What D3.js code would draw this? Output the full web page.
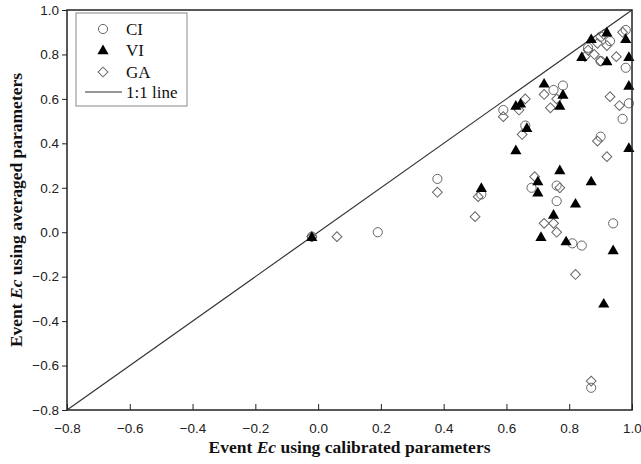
<!DOCTYPE html>
<html>
<head>
<meta charset="utf-8">
<script src="https://cdn.jsdelivr.net/npm/d3@7"></script>
<style>
  body { margin: 0; background: #fff; }
  svg { display: block; }
</style>
</head>
<body>
<script>
// Ec with calibrated (x) vs averaged (y) parameters
const ciPoints = [
  [-0.02, -0.02], [0.19, 0.00], [0.38, 0.24], [0.59, 0.55], [0.66, 0.48],
  [0.68, 0.20], [0.75, 0.64], [0.78, 0.66], [0.76, 0.21], [0.76, 0.14],
  [0.81, -0.05], [0.84, -0.06], [0.87, -0.70], [0.90, 0.43], [0.94, 0.04],
  [0.97, 0.51], [0.99, 0.58], [0.98, 0.74], [0.98, 0.91], [0.93, 0.86],
  [0.90, 0.88], [0.86, 0.83], [0.90, 0.77], [0.52, 0.17]
];
const viPoints = [
  [-0.02, -0.02], [0.52, 0.20], [0.63, 0.37], [0.63, 0.57], [0.645, 0.58],
  [0.665, 0.47], [0.70, 0.23], [0.70, 0.18], [0.71, -0.02], [0.72, 0.67],
  [0.75, 0.08], [0.77, 0.28], [0.77, 0.57], [0.78, 0.62], [0.79, -0.04],
  [0.82, 0.13], [0.84, 0.79], [0.87, 0.23], [0.87, 0.87], [0.91, -0.32],
  [0.92, 0.90], [0.92, 0.77], [0.94, -0.08], [0.98, 0.87], [0.99, 0.79],
  [0.99, 0.66], [0.99, 0.38]
];
const gaPoints = [
  [-0.02, -0.02], [0.06, -0.02], [0.38, 0.18], [0.50, 0.07], [0.51, 0.16],
  [0.59, 0.52], [0.64, 0.55], [0.66, 0.60], [0.65, 0.44], [0.69, 0.25],
  [0.72, 0.04], [0.75, 0.04], [0.76, 0.00], [0.77, 0.20], [0.72, 0.62],
  [0.74, 0.56], [0.76, 0.60], [0.82, -0.19], [0.87, -0.67], [0.89, 0.41],
  [0.92, 0.34], [0.93, 0.61], [0.96, 0.57], [0.85, 0.79], [0.86, 0.82],
  [0.88, 0.80], [0.89, 0.85], [0.90, 0.77], [0.91, 0.89], [0.92, 0.84],
  [0.95, 0.79], [0.97, 0.90]
];
const tickValues = [-0.8, -0.6, -0.4, -0.2, 0.0, 0.2, 0.4, 0.6, 0.8, 1.0];
const legendItems = ["CI", "VI", "GA", "1:1 line"];

const width = 641, height = 464;
const margin = { top: 10, right: 9, bottom: 54, left: 67 };

const svg = d3.select("body").append("svg")
    .attr("width", width)
    .attr("height", height);

const x = d3.scaleLinear().domain([-0.8, 1.0]).range([margin.left, width - margin.right]);
const y = d3.scaleLinear().domain([-0.8, 1.0]).range([height - margin.bottom, margin.top]);

// axes
svg.append("g")
    .attr("transform", `translate(0,${y(-0.8)})`)
    .call(d3.axisBottom(x).tickValues(tickValues).tickSize(-6).tickPadding(13).tickFormat(d3.format(".1f")))
    .call(g => g.select(".domain").remove())
    .call(g => g.selectAll("text").attr("font-family", "Liberation Sans, Arial, sans-serif").attr("font-size", 13.5).attr("fill", "#222"))
    .call(g => g.selectAll(".tick line").attr("stroke", "#222"));

svg.append("g")
    .attr("transform", `translate(${x(-0.8)},0)`)
    .call(d3.axisLeft(y).tickValues(tickValues).tickSize(5).tickPadding(3).tickFormat(d3.format(".1f")))
    .call(g => g.select(".domain").remove())
    .call(g => g.selectAll("text").attr("font-family", "Liberation Sans, Arial, sans-serif").attr("font-size", 13.5).attr("fill", "#222"))
    .call(g => g.selectAll(".tick line").attr("stroke", "#222"));

// 1:1 line
svg.append("line")
    .attr("x1", x(-0.8)).attr("y1", y(-0.8))
    .attr("x2", x(1.0)).attr("y2", y(1.0))
    .attr("stroke", "#333").attr("stroke-width", 1.2);

const circleSym = d3.symbol().type(d3.symbolCircle).size(66);
const triSym = d3.symbol().type(d3.symbolTriangle).size(54);
const diaSym = d3.symbol().type(d3.symbolSquare).size(48);

svg.append("g").selectAll("path")
    .data(gaPoints).join("path")
    .attr("d", diaSym)
    .attr("transform", d => `translate(${x(d[0])},${y(d[1])}) rotate(45)`)
    .attr("fill", "none").attr("stroke", "#666").attr("stroke-width", 1);

svg.append("g").selectAll("path")
    .data(ciPoints).join("path")
    .attr("d", circleSym)
    .attr("transform", d => `translate(${x(d[0])},${y(d[1])})`)
    .attr("fill", "none").attr("stroke", "#666").attr("stroke-width", 1);

svg.append("g").selectAll("path")
    .data(viPoints).join("path")
    .attr("d", triSym)
    .attr("transform", d => `translate(${x(d[0])},${y(d[1]) + 1})`)
    .attr("fill", "#000");

// frame
svg.append("rect")
    .attr("x", x(-0.8)).attr("y", y(1.0))
    .attr("width", x(1.0) - x(-0.8)).attr("height", y(-0.8) - y(1.0))
    .attr("fill", "none").attr("stroke", "#222").attr("stroke-width", 1.5);

// legend
const legend = svg.append("g").attr("transform", "translate(76,13)");
legend.append("rect")
    .attr("width", 111).attr("height", 93)
    .attr("fill", "#fff").attr("stroke", "#888").attr("stroke-width", 1);

const rowY = [16, 37, 59, 79];
legend.append("path").attr("d", circleSym).attr("transform", `translate(27,${rowY[0]})`)
    .attr("fill", "none").attr("stroke", "#666");
legend.append("path").attr("d", triSym).attr("transform", `translate(27,${rowY[1] + 1})`)
    .attr("fill", "#000");
legend.append("path").attr("d", diaSym).attr("transform", `translate(27,${rowY[2]}) rotate(45)`)
    .attr("fill", "none").attr("stroke", "#666");
legend.append("line").attr("x1", 9).attr("x2", 46).attr("y1", rowY[3]).attr("y2", rowY[3])
    .attr("stroke", "#333").attr("stroke-width", 1.2);

legend.selectAll("text.lab")
    .data(legendItems).join("text")
    .attr("class", "lab")
    .attr("x", 50)
    .attr("y", (d, i) => rowY[i])
    .attr("dy", "0.35em")
    .attr("font-family", "Liberation Serif, Times New Roman, serif")
    .attr("font-size", 17)
    .attr("fill", "#111")
    .text(d => d);

// axis titles
const xt = svg.append("text")
    .attr("x", (x(-0.8) + x(1.0)) / 2)
    .attr("y", 453)
    .attr("text-anchor", "middle")
    .attr("font-family", "Liberation Serif, Times New Roman, serif")
    .attr("font-weight", "bold")
    .attr("font-size", 17.5)
    .attr("fill", "#111");
xt.append("tspan").text("Event ");
xt.append("tspan").attr("font-style", "italic").text("Ec");
xt.append("tspan").text(" using calibrated parameters");

const yt = svg.append("text")
    .attr("transform", `translate(22,${(y(-0.8) + y(1.0)) / 2}) rotate(-90)`)
    .attr("text-anchor", "middle")
    .attr("font-family", "Liberation Serif, Times New Roman, serif")
    .attr("font-weight", "bold")
    .attr("font-size", 17.5)
    .attr("fill", "#111");
yt.append("tspan").text("Event ");
yt.append("tspan").attr("font-style", "italic").text("Ec");
yt.append("tspan").text(" using averaged parameters");
</script>
</body>
</html>
